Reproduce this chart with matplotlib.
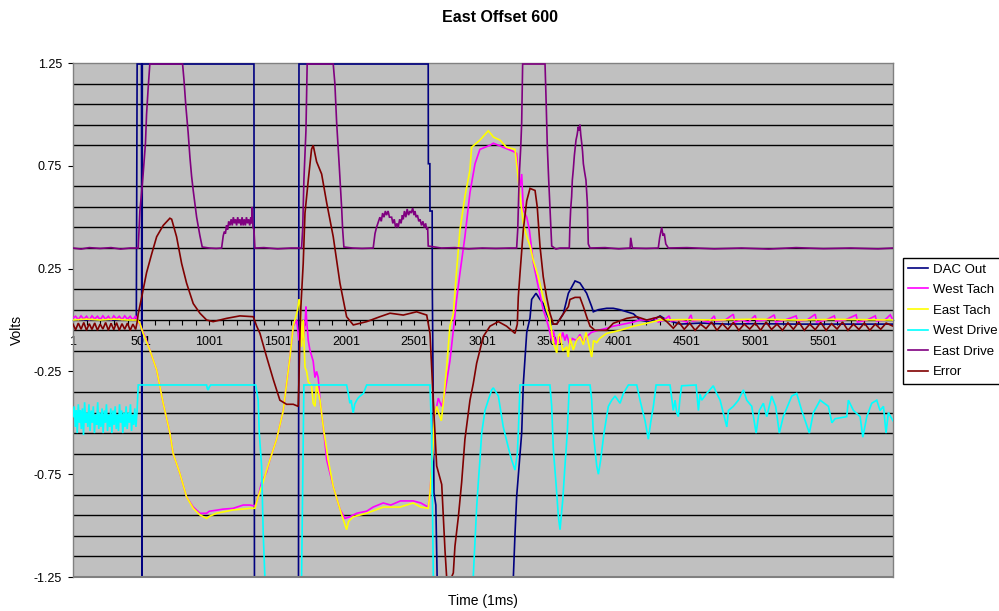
import matplotlib
matplotlib.use('Agg')
import matplotlib.pyplot as plt
from matplotlib.patches import Rectangle
from matplotlib.ticker import FixedLocator, NullFormatter

plt.rcParams['font.family'] = ['Liberation Sans', 'DejaVu Sans']

title = "East Offset 600"
x_label = "Time (1ms)"
y_label = "Volts"
series_names = ["DAC Out", "West Tach", "East Tach", "West Drive", "East Drive", "Error"]
series_colors = ["#000080", "#FF00FF", "#FFFF00", "#00FFFF", "#800080", "#800000"]
x_tick_values = [1, 501, 1001, 1501, 2001, 2501, 3001, 3501, 4001, 4501, 5001, 5501]
y_tick_values = [-1.25, -0.75, -0.25, 0.25, 0.75, 1.25]

# Each series: (time sample, volts) pairs
dac_out = [
    (1, 0.0), (465, 0.0), (471, 1.245), (503, 1.245), (506, -1.5), (509, 1.245), (1327, 1.245),
    (1331, -1.5), (1653, -1.5), (1657, 1.245), (2604, 1.245), (2605, 0.76), (2616, 0.76),
    (2617, 0.53), (2633, 0.53), (2634, 0.16), (2641, -0.4), (2646, -0.84), (2660, -0.9),
    (2676, -1.5), (3224, -1.5), (3228, -1.25), (3240, -1.04), (3252, -0.86), (3277, -0.65),
    (3289, -0.55), (3301, -0.31), (3326, -0.06), (3350, 0.01), (3362, 0.1), (3394, 0.13),
    (3423, 0.1), (3447, 0.08), (3472, 0.03), (3509, -0.02), (3546, -0.02), (3594, 0.03),
    (3631, 0.13), (3680, 0.19), (3716, 0.18), (3765, 0.13), (3802, 0.065), (3814, 0.04),
    (3850, 0.05), (3912, 0.057), (3960, 0.057), (4010, 0.05), (4059, 0.04), (4108, 0.03),
    (4156, 0.0), (4229, -0.01), (4303, 0.02), (4352, 0.0), (4450, -0.02), (4600, -0.015),
    (4800, -0.02), (5000, -0.018), (5300, -0.02), (5600, -0.02), (6010, -0.02),
]

west_tach = [
    (1, 0.01), (20, 0.018), (40, 0.002), (60, 0.02), (80, 0.004), (100, 0.018), (120, 0.0),
    (140, 0.02), (160, 0.005), (180, 0.018), (200, 0.002), (220, 0.02), (240, 0.004),
    (260, 0.018), (280, 0.0), (300, 0.02), (320, 0.005), (340, 0.018), (360, 0.002), (380, 0.02),
    (400, 0.004), (420, 0.018), (440, 0.0), (460, 0.02), (471, 0.0), (491, -0.02), (515, -0.06),
    (540, -0.1), (564, -0.146), (614, -0.243), (662, -0.405), (711, -0.55), (735, -0.65),
    (784, -0.746), (833, -0.86), (882, -0.91), (931, -0.94), (980, -0.94), (1000, -0.93),
    (1053, -0.925), (1100, -0.92), (1175, -0.916), (1248, -0.9), (1297, -0.9), (1334, -0.905),
    (1358, -0.86), (1383, -0.79), (1420, -0.74), (1444, -0.68), (1493, -0.58), (1542, -0.44),
    (1566, -0.31), (1591, -0.18), (1615, -0.03), (1640, 0.0), (1657, -0.1), (1671, -0.05),
    (1688, -0.1), (1701, -0.02), (1708, 0.065), (1713, 0.0), (1725, -0.1), (1737, -0.146),
    (1761, -0.2), (1774, -0.28), (1786, -0.25), (1798, -0.28), (1811, -0.39), (1835, -0.52),
    (1860, -0.68), (1908, -0.81), (1957, -0.92), (1994, -0.965), (2030, -0.957), (2080, -0.94),
    (2153, -0.93), (2200, -0.91), (2274, -0.89), (2330, -0.9), (2400, -0.88), (2494, -0.88),
    (2550, -0.89), (2604, -0.91), (2617, -0.84), (2637, -0.65), (2648, -0.47), (2666, -0.42),
    (2678, -0.38), (2690, -0.4), (2703, -0.42), (2727, -0.35), (2763, -0.2), (2788, -0.05),
    (2812, 0.1), (2837, 0.23), (2873, 0.405), (2910, 0.62), (2947, 0.76), (2983, 0.83),
    (3057, 0.85), (3081, 0.86), (3154, 0.84), (3228, 0.82), (3252, 0.81), (3264, 0.70),
    (3277, 0.65), (3289, 0.71), (3301, 0.535), (3326, 0.5), (3345, 0.44), (3374, 0.28),
    (3411, 0.16), (3447, 0.05), (3472, 0.0), (3496, -0.06), (3509, -0.1), (3521, -0.05),
    (3540, -0.12), (3558, -0.08), (3570, -0.11), (3590, -0.06), (3606, -0.1), (3619, -0.07),
    (3640, -0.12), (3660, -0.09), (3690, -0.1), (3716, -0.07), (3740, -0.11), (3765, -0.08),
    (3800, -0.06), (3850, -0.05), (3912, -0.04), (3960, -0.03), (4034, -0.02), (4108, -0.01),
    (4156, 0.0), (4229, 0.0), (4260, 0.01), (4290, -0.01), (4330, 0.0), (4370, 0.02),
    (4380, -0.005), (4450, 0.0), (4500, -0.01), (4530, 0.025), (4540, -0.005), (4600, 0.0),
    (4660, -0.01), (4700, 0.02), (4710, -0.005), (4780, 0.0), (4840, 0.028), (4850, -0.01),
    (4900, 0.0), (4950, -0.01), (5000, 0.022), (5010, -0.005), (5080, 0.0), (5140, 0.025),
    (5150, -0.01), (5220, 0.0), (5300, 0.02), (5310, -0.005), (5380, 0.0), (5440, 0.028),
    (5450, -0.01), (5520, 0.0), (5580, 0.02), (5590, -0.005), (5660, 0.0), (5740, 0.025),
    (5750, -0.01), (5820, 0.0), (5880, 0.02), (5890, -0.005), (5950, 0.0), (5990, 0.025),
    (6010, 0.0),
]

east_tach = [
    (1, 0.0), (100, 0.004), (200, 0.0), (300, 0.004), (400, 0.0), (471, 0.0), (479, -0.005),
    (491, -0.016), (515, -0.065), (564, -0.146), (614, -0.243), (662, -0.405), (711, -0.55),
    (735, -0.65), (784, -0.746), (833, -0.86), (882, -0.916), (931, -0.948), (980, -0.965),
    (1000, -0.955), (1053, -0.94), (1175, -0.924), (1297, -0.916), (1334, -0.916),
    (1358, -0.86), (1395, -0.786), (1444, -0.68), (1493, -0.58), (1542, -0.44), (1566, -0.31),
    (1591, -0.18), (1615, -0.03), (1647, 0.05), (1657, 0.1), (1664, 0.09), (1671, 0.0),
    (1676, -0.13), (1688, 0.0), (1701, -0.23), (1713, -0.25), (1725, -0.3), (1749, -0.32),
    (1761, -0.405), (1774, -0.42), (1786, -0.31), (1798, -0.35), (1811, -0.39), (1835, -0.52),
    (1871, -0.68), (1908, -0.81), (1957, -0.92), (2006, -1.02), (2020, -0.98), (2055, -0.957),
    (2153, -0.94), (2274, -0.91), (2397, -0.91), (2494, -0.89), (2550, -0.91), (2604, -0.916),
    (2617, -0.84), (2637, -0.65), (2648, -0.47), (2666, -0.42), (2680, -0.45), (2700, -0.49),
    (2715, -0.4), (2739, -0.23), (2763, -0.03), (2788, 0.03), (2812, 0.24), (2837, 0.44),
    (2873, 0.6), (2910, 0.73), (2922, 0.84), (2983, 0.875), (3044, 0.92), (3070, 0.9),
    (3081, 0.89), (3130, 0.875), (3178, 0.84), (3240, 0.83), (3252, 0.76), (3277, 0.6),
    (3301, 0.47), (3326, 0.405), (3350, 0.36), (3374, 0.29), (3411, 0.21), (3447, 0.11),
    (3472, 0.05), (3496, 0.0), (3521, -0.11), (3546, -0.16), (3558, -0.08), (3570, -0.065),
    (3590, -0.15), (3619, -0.13), (3630, -0.18), (3645, -0.09), (3667, -0.146), (3690, -0.1),
    (3716, -0.08), (3741, -0.12), (3760, -0.06), (3802, -0.18), (3815, -0.1), (3839, -0.11),
    (3860, -0.09), (3912, -0.065), (4010, -0.05), (4108, -0.03), (4205, -0.016), (4303, 0.0),
    (4500, 0.002), (4700, 0.0), (5000, 0.004), (5300, 0.0), (5600, 0.003), (6010, 0.0),
]

west_drive = [
    (1, -0.47), (10, -0.42), (18, -0.52), (25, -0.44), (32, -0.55), (40, -0.41), (48, -0.5),
    (55, -0.44), (62, -0.53), (70, -0.43), (78, -0.56), (86, -0.4), (94, -0.5), (102, -0.45),
    (110, -0.52), (118, -0.41), (126, -0.54), (134, -0.44), (142, -0.5), (150, -0.42),
    (158, -0.55), (166, -0.46), (174, -0.51), (182, -0.4), (190, -0.53), (198, -0.45),
    (206, -0.52), (214, -0.43), (222, -0.55), (230, -0.44), (238, -0.5), (246, -0.41),
    (254, -0.54), (262, -0.46), (270, -0.52), (278, -0.43), (286, -0.55), (294, -0.44),
    (302, -0.51), (310, -0.42), (318, -0.53), (326, -0.46), (334, -0.54), (342, -0.41),
    (350, -0.5), (358, -0.44), (366, -0.55), (374, -0.45), (382, -0.52), (390, -0.42),
    (398, -0.53), (406, -0.45), (414, -0.5), (422, -0.41), (430, -0.54), (438, -0.46),
    (446, -0.51), (454, -0.43), (462, -0.52), (470, -0.45), (479, -0.316), (980, -0.316),
    (986, -0.335), (992, -0.34), (1000, -0.325), (1010, -0.316), (1340, -0.316), (1358, -0.39),
    (1366, -0.55), (1383, -0.71), (1395, -1.04), (1407, -1.25), (1412, -1.5), (1670, -1.5),
    (1676, -1.25), (1684, -0.81), (1693, -0.316), (2006, -0.316), (2018, -0.357),
    (2030, -0.405), (2040, -0.39), (2048, -0.43), (2055, -0.45), (2065, -0.41), (2080, -0.39),
    (2090, -0.38), (2104, -0.37), (2129, -0.357), (2153, -0.316), (2617, -0.316),
    (2629, -0.55), (2641, -1.25), (2646, -1.5), (2930, -1.5), (2934, -1.25), (2947, -1.07),
    (2959, -0.91), (2971, -0.79), (2983, -0.68), (2996, -0.55), (3020, -0.44), (3044, -0.39),
    (3069, -0.34), (3081, -0.33), (3118, -0.37), (3154, -0.52), (3191, -0.62), (3215, -0.68),
    (3240, -0.73), (3257, -0.65), (3264, -0.55), (3277, -0.316), (3496, -0.316),
    (3509, -0.42), (3521, -0.63), (3540, -0.79), (3558, -0.957), (3570, -1.02),
    (3590, -0.875), (3606, -0.71), (3623, -0.55), (3638, -0.316), (3790, -0.316),
    (3802, -0.39), (3814, -0.55), (3839, -0.71), (3851, -0.75), (3868, -0.68), (3892, -0.55),
    (3912, -0.47), (3924, -0.42), (3949, -0.39), (3973, -0.37), (4010, -0.405),
    (4034, -0.357), (4071, -0.316), (4132, -0.316), (4156, -0.39), (4193, -0.49),
    (4217, -0.58), (4234, -0.5), (4254, -0.42), (4274, -0.316), (4376, -0.316), (4400, -0.44),
    (4413, -0.39), (4425, -0.45), (4437, -0.47), (4449, -0.38), (4461, -0.32), (4567, -0.316),
    (4584, -0.44), (4596, -0.36), (4608, -0.39), (4645, -0.357), (4693, -0.32), (4718, -0.357),
    (4743, -0.39), (4792, -0.52), (4804, -0.44), (4840, -0.42), (4877, -0.39), (4914, -0.34),
    (4938, -0.39), (4975, -0.42), (5007, -0.55), (5030, -0.44), (5060, -0.405), (5085, -0.47),
    (5121, -0.37), (5150, -0.42), (5177, -0.55), (5206, -0.47), (5268, -0.37), (5304, -0.357),
    (5341, -0.44), (5397, -0.55), (5427, -0.45), (5476, -0.39), (5537, -0.42), (5562, -0.5),
    (5586, -0.48), (5671, -0.47), (5683, -0.39), (5720, -0.44), (5769, -0.47), (5789, -0.57),
    (5818, -0.47), (5854, -0.405), (5891, -0.39), (5915, -0.44), (5940, -0.42), (5959, -0.55),
    (5976, -0.45), (6010, -0.49),
]

east_drive = [
    (1, 0.35), (60, 0.345), (120, 0.352), (200, 0.348), (280, 0.352), (350, 0.345), (420, 0.35),
    (471, 0.35), (479, 0.35), (486, 0.455), (491, 0.53), (504, 0.62), (515, 0.71), (532, 0.86),
    (540, 1.0), (552, 1.13), (564, 1.245), (804, 1.245), (814, 1.17), (828, 1.04), (845, 0.91),
    (858, 0.79), (870, 0.70), (882, 0.63), (907, 0.50), (931, 0.41), (948, 0.355), (1000, 0.35),
    (1050, 0.348), (1090, 0.35), (1102, 0.41), (1110, 0.43), (1118, 0.42), (1126, 0.46),
    (1134, 0.44), (1142, 0.48), (1151, 0.46), (1160, 0.49), (1168, 0.46), (1176, 0.5),
    (1184, 0.47), (1192, 0.49), (1200, 0.46), (1208, 0.5), (1216, 0.47), (1224, 0.49),
    (1232, 0.46), (1240, 0.5), (1248, 0.46), (1256, 0.49), (1264, 0.46), (1272, 0.5),
    (1280, 0.47), (1288, 0.49), (1296, 0.46), (1304, 0.5), (1310, 0.47), (1314, 0.55),
    (1320, 0.45), (1327, 0.44), (1334, 0.35), (1400, 0.352), (1500, 0.346), (1600, 0.35),
    (1676, 0.35), (1684, 0.44), (1693, 0.68), (1708, 0.92), (1717, 1.245), (1908, 1.245),
    (1920, 1.15), (1933, 0.96), (1945, 0.83), (1952, 0.75), (1962, 0.63), (1970, 0.54),
    (1977, 0.44), (1986, 0.355), (2050, 0.35), (2120, 0.348), (2201, 0.35), (2214, 0.42),
    (2225, 0.45), (2235, 0.47), (2250, 0.5), (2260, 0.48), (2270, 0.52), (2280, 0.5),
    (2290, 0.53), (2299, 0.51), (2310, 0.53), (2320, 0.5), (2336, 0.5), (2345, 0.47),
    (2355, 0.49), (2365, 0.45), (2375, 0.47), (2384, 0.45), (2395, 0.49), (2405, 0.47),
    (2415, 0.51), (2421, 0.49), (2430, 0.53), (2440, 0.5), (2450, 0.54), (2460, 0.51),
    (2470, 0.53), (2480, 0.52), (2490, 0.545), (2500, 0.51), (2507, 0.53), (2515, 0.5),
    (2525, 0.51), (2535, 0.48), (2544, 0.49), (2555, 0.46), (2565, 0.48), (2575, 0.45),
    (2585, 0.47), (2593, 0.44), (2600, 0.45), (2604, 0.36), (2700, 0.35), (2800, 0.352),
    (2900, 0.346), (3000, 0.35), (3100, 0.348), (3200, 0.35), (3252, 0.35), (3260, 0.44),
    (3271, 0.70), (3282, 0.84), (3289, 0.96), (3296, 1.245), (3460, 1.245), (3467, 1.09),
    (3477, 0.84), (3487, 0.68), (3496, 0.55), (3509, 0.36), (3540, 0.345), (3570, 0.35),
    (3638, 0.35), (3642, 0.45), (3648, 0.54), (3655, 0.6), (3660, 0.68), (3667, 0.73),
    (3675, 0.8), (3687, 0.875), (3695, 0.9), (3704, 0.94), (3710, 0.92), (3716, 0.95),
    (3722, 0.9), (3729, 0.86), (3735, 0.82), (3741, 0.76), (3750, 0.72), (3760, 0.68),
    (3770, 0.57), (3777, 0.37), (3790, 0.35), (3900, 0.352), (4000, 0.346), (4083, 0.35),
    (4088, 0.40), (4095, 0.37), (4100, 0.35), (4200, 0.348), (4290, 0.35), (4300, 0.40),
    (4315, 0.45), (4325, 0.41), (4334, 0.42), (4345, 0.37), (4364, 0.35), (4500, 0.352),
    (4700, 0.346), (4900, 0.35), (5100, 0.345), (5300, 0.352), (5500, 0.347), (5700, 0.35),
    (5900, 0.346), (6010, 0.35),
]

error = [
    (1, -0.02), (20, -0.048), (40, -0.015), (60, -0.045), (80, -0.012), (100, -0.05),
    (120, -0.018), (140, -0.046), (160, -0.014), (180, -0.05), (200, -0.02), (220, -0.044),
    (240, -0.012), (260, -0.05), (280, -0.016), (300, -0.047), (320, -0.013), (340, -0.05),
    (360, -0.018), (380, -0.045), (400, -0.015), (420, -0.05), (440, -0.02), (460, -0.046),
    (471, -0.01), (479, 0.03), (504, 0.11), (540, 0.23), (577, 0.32), (614, 0.405), (662, 0.46),
    (711, 0.495), (724, 0.49), (760, 0.405), (797, 0.275), (833, 0.18), (882, 0.08),
    (931, 0.033), (980, 0.0), (1028, -0.008), (1127, 0.008), (1224, 0.02), (1322, 0.016),
    (1347, -0.03), (1371, -0.065), (1420, -0.18), (1469, -0.29), (1517, -0.39), (1566, -0.41),
    (1615, -0.41), (1651, -0.42), (1657, -0.29), (1664, -0.065), (1671, 0.065), (1688, 0.275),
    (1701, 0.52), (1725, 0.68), (1749, 0.83), (1761, 0.85), (1786, 0.77), (1823, 0.71),
    (1860, 0.57), (1908, 0.405), (1957, 0.18), (2006, 0.016), (2055, -0.024), (2153, -0.008),
    (2250, 0.016), (2324, 0.033), (2421, 0.024), (2519, 0.04), (2593, 0.024), (2617, -0.065),
    (2641, -0.39), (2666, -0.71), (2703, -0.8), (2715, -0.957), (2727, -1.12), (2739, -1.25),
    (2763, -1.27), (2788, -1.23), (2800, -1.10), (2825, -0.957), (2849, -0.79), (2873, -0.58),
    (2910, -0.39), (2934, -0.31), (2959, -0.21), (2983, -0.146), (3008, -0.08), (3057, -0.03),
    (3118, -0.008), (3178, -0.03), (3240, -0.065), (3257, -0.02), (3264, 0.11), (3277, 0.23),
    (3301, 0.44), (3326, 0.58), (3350, 0.64), (3387, 0.63), (3403, 0.55), (3423, 0.36),
    (3447, 0.21), (3472, 0.11), (3496, 0.033), (3521, -0.02), (3546, -0.02), (3594, 0.03),
    (3631, 0.065), (3643, 0.1), (3680, 0.11), (3716, 0.11), (3741, 0.065), (3765, 0.016),
    (3790, -0.03), (3826, -0.05), (3912, -0.05), (3960, -0.016), (4059, 0.008), (4132, 0.016),
    (4205, 0.0), (4303, 0.016), (4352, -0.008), (4400, -0.04), (4440, -0.01), (4480, -0.045),
    (4520, -0.015), (4560, -0.05), (4600, -0.02), (4640, -0.042), (4680, -0.01), (4720, -0.05),
    (4760, -0.018), (4800, -0.046), (4840, -0.012), (4880, -0.05), (4920, -0.02), (4960, -0.044),
    (5000, -0.015), (5040, -0.05), (5080, -0.01), (5120, -0.046), (5160, -0.02), (5200, -0.05),
    (5240, -0.014), (5280, -0.045), (5320, -0.01), (5360, -0.05), (5400, -0.02), (5440, -0.047),
    (5480, -0.012), (5520, -0.05), (5560, -0.018), (5600, -0.044), (5640, -0.01), (5680, -0.05),
    (5720, -0.02), (5760, -0.046), (5800, -0.015), (5840, -0.05), (5880, -0.02), (5920, -0.045),
    (5960, -0.015), (6010, -0.03),
]

all_series = [dac_out, west_tach, east_tach, west_drive, east_drive, error]

W, H = 999, 611
fig = plt.figure(figsize=(W / 100, H / 100), dpi=100)
ax = fig.add_axes([73 / W, 1 - 577 / H, 820 / W, 514 / H])
ax.set_facecolor('#C0C0C0')

for pts, c, name in zip(all_series, series_colors, series_names):
    t = [p[0] for p in pts]
    v = [p[1] for p in pts]
    ax.plot(t, v, color=c, lw=1.2, label=name, zorder=3, solid_joinstyle='miter')

ax.set_xlim(1, 6010)
ax.set_ylim(-1.25, 1.25)

# horizontal grid every 0.1
grid_vals = [round(-1.15 + 0.1 * i, 2) for i in range(24)]
ax.yaxis.set_major_locator(FixedLocator(y_tick_values))
ax.set_yticklabels([f"{v:.2f}" for v in y_tick_values])
ax.yaxis.set_minor_locator(FixedLocator(grid_vals))
ax.grid(which='minor', axis='y', color='black', lw=1.0, zorder=1)
ax.grid(which='major', axis='y', visible=False)
ax.tick_params(axis='y', which='minor', length=0)
ax.tick_params(axis='y', which='major', direction='out', length=3.5, width=0.8,
               color='black', pad=4.5, labelsize=9)
ax.set_axisbelow(True)

# x axis at y = 0
ax.spines['bottom'].set_position(('data', 0))
ax.spines['bottom'].set_color('black')
ax.spines['bottom'].set_linewidth(1.0)
ax.spines['bottom'].set_zorder(2)
ax.xaxis.set_major_locator(FixedLocator(x_tick_values))
ax.set_xticklabels([str(v) for v in x_tick_values])
minor_x = [v for v in range(101, 6001, 100) if v not in x_tick_values]
ax.xaxis.set_minor_locator(FixedLocator(minor_x))
ax.xaxis.set_minor_formatter(NullFormatter())
ax.tick_params(axis='x', which='both', direction='out', length=3.5, width=0.8,
               color='black', labelsize=9, pad=8)

for s in ['left', 'top', 'right']:
    ax.spines[s].set_color('#808080')
    ax.spines[s].set_linewidth(1.0)
ax.add_patch(Rectangle((0, 0), 1, 0, transform=ax.transAxes, fill=False,
                       ec='#808080', lw=1.5, clip_on=False, zorder=4))

fig.text(0.5, 1 - 17 / H, title, ha='center', va='center', fontsize=11.5, fontweight='bold')
fig.text(483 / W, 1 - 601 / H, x_label, ha='center', va='center', fontsize=10)
fig.text(17 / W, 1 - 330 / H, y_label, ha='center', va='center', fontsize=10, rotation=90)

leg = fig.legend(loc='upper left', bbox_to_anchor=(903 / W, 1 - 258 / H), fontsize=9.5,
                 frameon=True, fancybox=False, edgecolor='black', facecolor='white',
                 framealpha=1, handlelength=1.5, handletextpad=0.4, borderpad=0.4,
                 labelspacing=0.63, borderaxespad=0)
leg.get_frame().set_linewidth(1.0)
for line in leg.get_lines():
    line.set_linewidth(1.2)

fig.savefig('out.png', dpi=100)
